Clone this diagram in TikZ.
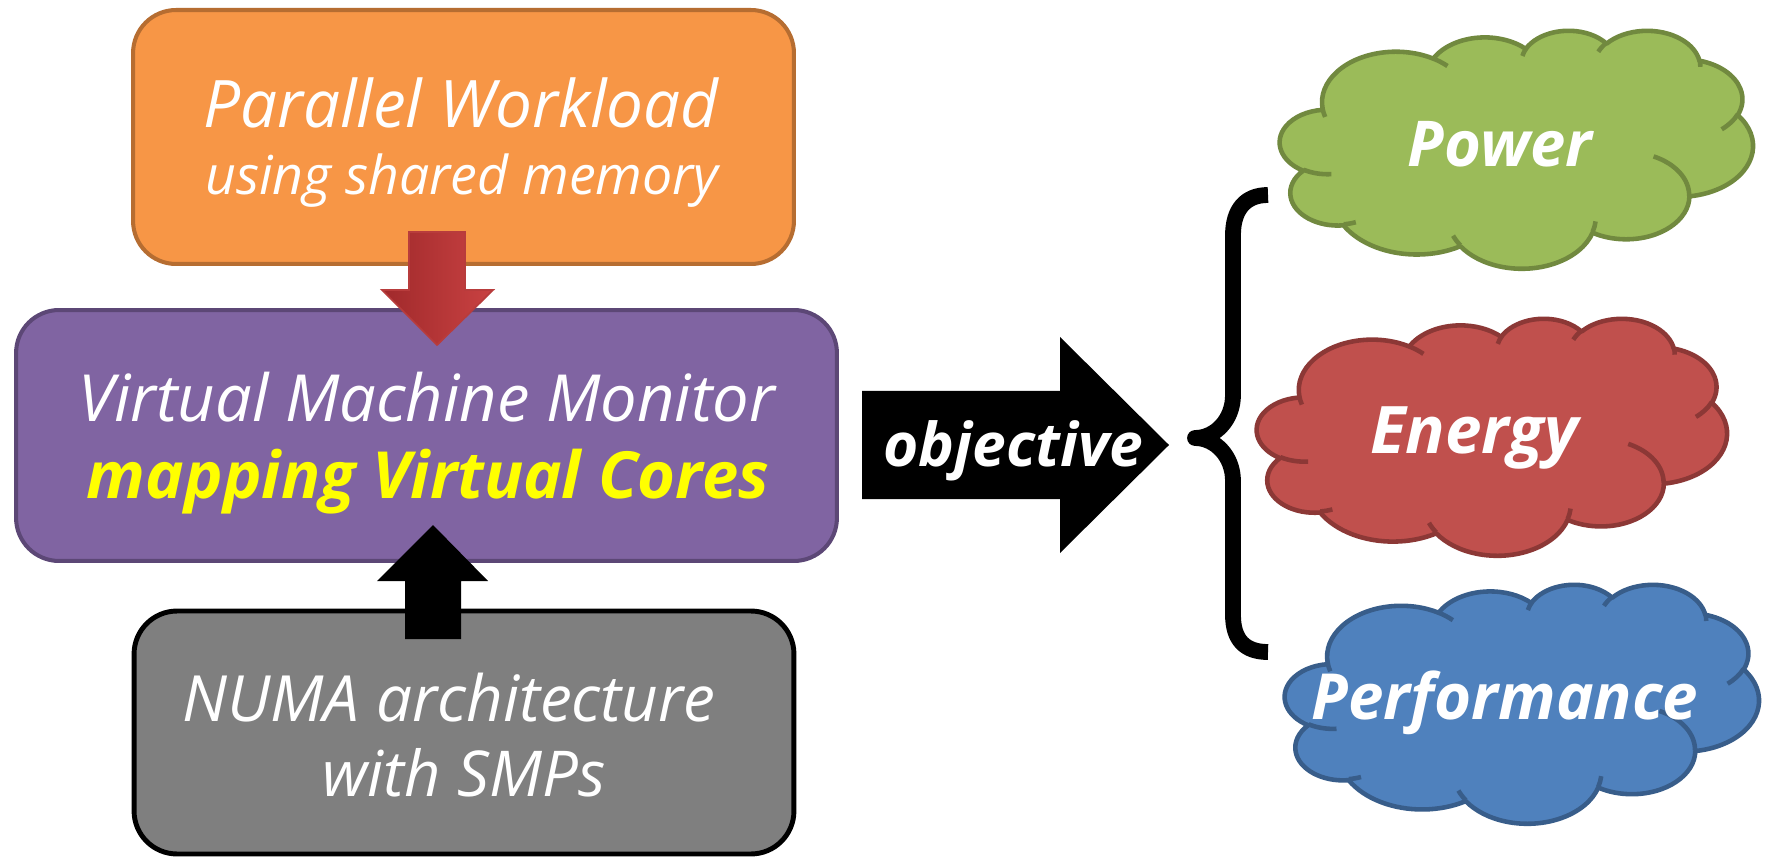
\documentclass[tikz,border=0pt]{standalone}
\usepackage{fontspec}
\setmainfont{Open Sans}
\definecolor{orangeFill}{HTML}{F79646}
\definecolor{orangeLine}{HTML}{B66D31}
\definecolor{purpleFill}{HTML}{8064A2}
\definecolor{purpleLine}{HTML}{5C4776}
\definecolor{grayFill}{HTML}{7F7F7F}
\definecolor{greenFill}{HTML}{9BBB59}
\definecolor{greenLine}{HTML}{71893F}
\definecolor{redFill}{HTML}{C0504D}
\definecolor{redLine}{HTML}{8C3836}
\definecolor{blueFill}{HTML}{4F81BD}
\definecolor{blueLine}{HTML}{385D8A}
\definecolor{arrowDark}{HTML}{A0292B}
\definecolor{arrowLight}{HTML}{C94242}
\definecolor{arrowEdge}{HTML}{B83C3C}
\definecolor{textYellow}{HTML}{FFFF00}
% convert DrawingML visual angles into parametric angles
\newcommand\cconv[5]{%
  \pgfmathsetmacro\tmpA{atan2((#2)*sin(#4),(#3)*cos(#4))}%
  \pgfmathsetmacro\tmpB{atan2((#2)*sin((#4)+(#5)),(#3)*cos((#4)+(#5)))}%
  \pgfmathsetmacro\tmpD{\tmpB-\tmpA}%
  \pgfmathsetmacro\tmpD{ifthenelse((#5)>0,ifthenelse(\tmpD<0,\tmpD+360,\tmpD),ifthenelse(\tmpD>0,\tmpD-360,\tmpD))}%
  \expandafter\xdef\csname #1s\endcsname{\tmpA}%
  \expandafter\xdef\csname #1d\endcsname{\tmpD}%
}
\tikzset{
  boxshape/.style={rounded corners=0.86cm, inner sep=0pt, line width=2.3pt},
  txt/.style={text=white, inner sep=0pt, anchor=base},
  cloudline/.style={line width=2.6pt, line join=round},
}
\newcommand\cloudshape[6]{%
\begin{scope}[shift={(#1,#2)},x=#3cm,y=-#4cm]
\filldraw[fill=#5, draw=#6, cloudline]
  (39.00,143.70)
  arc[start angle=\cAs,delta angle=\cAd,x radius=67.53,y radius=91.90]
  arc[start angle=\cBs,delta angle=\cBd,x radius=53.33,y radius=72.67]
  arc[start angle=\cCs,delta angle=\cCd,x radius=43.65,y radius=59.45]
  arc[start angle=\cDs,delta angle=\cDd,x radius=48.57,y radius=65.95]
  arc[start angle=\cEs,delta angle=\cEd,x radius=53.33,y radius=72.73]
  arc[start angle=\cFs,delta angle=\cFd,x radius=67.75,y radius=92.20]
  arc[start angle=\cGs,delta angle=\cGd,x radius=57.85,y radius=78.67]
  arc[start angle=\cHs,delta angle=\cHd,x radius=67.52,y radius=92.15]
  arc[start angle=\cIs,delta angle=\cId,x radius=77.20,y radius=105.43]
  arc[start angle=\cJs,delta angle=\cJd,x radius=43.60,y radius=59.18]
  arc[start angle=\cKs,delta angle=\cKd,x radius=43.45,y radius=59.45]
  -- cycle;
\draw[draw=#6, cloudline]
  (46.93,261.77) arc[start angle=\iAs,delta angle=\iAd,x radius=43.45,y radius=59.45]
  (69.28,348.99) arc[start angle=\iBs,delta angle=\iBd,x radius=43.60,y radius=59.18]
  (164.78,390.90) arc[start angle=\iCs,delta angle=\iCd,x radius=67.52,y radius=92.15]
  (288.27,347.51) arc[start angle=\iDs,delta angle=\iDd,x radius=67.52,y radius=92.15]
  (341.29,229.54) arc[start angle=\iEs,delta angle=\iEd,x radius=57.85,y radius=78.67]
  (417.98,153.54) arc[start angle=\iFs,delta angle=\iFd,x radius=53.33,y radius=72.73]
  (383.24,54.26) arc[start angle=\iGs,delta angle=\iGd,x radius=48.57,y radius=65.95]
  (290.78,39.52) arc[start angle=\iHs,delta angle=\iHd,x radius=48.57,y radius=65.95]
  (221.41,47.20) arc[start angle=\iIs,delta angle=\iId,x radius=43.65,y radius=59.45]
  (140.00,51.92) arc[start angle=\iJs,delta angle=\iJd,x radius=67.53,y radius=91.90]
  (41.27,157.89) arc[start angle=\iKs,delta angle=\iKd,x radius=67.53,y radius=91.90];
\end{scope}}
\begin{document}
\begin{tikzpicture}[x=0.02cm,y=-0.02cm]
\cconv{cA}{67.53}{91.90}{-190.48748}{123.78053}
\cconv{cB}{53.33}{72.67}{-144.10238}{89.94523}
\cconv{cC}{43.65}{59.45}{-145.80792}{99.72302}
\cconv{cD}{48.57}{65.95}{-130.98607}{117.24173}
\cconv{cE}{53.33}{72.73}{-78.70888}{109.02692}
\cconv{cF}{67.75}{92.20}{-46.26725}{130.269}
\cconv{cG}{57.85}{78.67}{0.62502}{114.03333}
\cconv{cH}{67.52}{92.15}{22.4516}{115.17255}
\cconv{cI}{77.20}{105.43}{66.24263}{75.71102}
\cconv{cJ}{43.60}{59.18}{-274.94208}{146.73557}
\cconv{cK}{43.45}{59.45}{-246.8285}{152.51885}
\cconv{iA}{43.45}{59.45}{86.742}{26.4295}
\cconv{iB}{43.60}{59.18}{73.61047}{11.44747}
\cconv{iC}{67.52}{92.15}{137.62415}{14.0811}
\cconv{iD}{67.52}{92.15}{6.45327}{15.99835}
\cconv{iE}{57.85}{78.67}{-70.29235}{70.91737}
\cconv{iF}{53.33}{72.73}{30.31803}{27.7515}
\cconv{iG}{48.57}{65.95}{-13.74433}{14.8589}
\cconv{iH}{48.57}{65.95}{-149.18145}{18.19537}
\cconv{iI}{43.65}{59.45}{-163.49427}{17.68635}
\cconv{iJ}{67.53}{91.90}{-66.70695}{12.31935}
\cconv{iK}{67.53}{91.90}{157.65435}{11.85817}
\useasboundingbox[fill=white] (0,0) rectangle (1768,861);
% boxes
\node[boxshape, draw=orangeLine, fill=orangeFill, minimum width=13.22cm, minimum height=5.08cm] (orange) at (463.5,137) {};
\node[boxshape, draw=purpleLine, fill=purpleFill, minimum width=16.42cm, minimum height=5.02cm] (purple) at (426.5,435.5) {};
\node[boxshape, draw=black, fill=grayFill, line width=2.8pt, minimum width=13.2cm, minimum height=4.86cm] (gray) at (464,732.5) {};
% block arrows
\draw[arrowEdge, line width=1pt, left color=arrowDark, right color=arrowLight]
  (409,232) -- (465,232) -- (465,290) -- (493,290) -- (437,345) -- (382,290) -- (409,290) -- cycle;
\fill[black] (405,639) -- (461,639) -- (461,581) -- (488,581) -- (433,525) -- (377,581) -- (405,581) -- cycle;
\fill[black] (862,391) -- (1060,391) -- (1060,337) -- (1169,445) -- (1060,553) -- (1060,499) -- (862,499) -- cycle;
% texts
\node[txt, font=\fontsize{37.3}{40}\selectfont\itshape] (t1) at (461,128) {Parallel Workload};
\node[txt, font=\fontsize{30.5}{34}\selectfont\itshape] (t2) at (462,195) {using shared memory};
\node[txt, font=\fontsize{37}{40}\selectfont\itshape] (t3) at (427,421) {Virtual Machine Monitor};
\node[txt, text=textYellow, font=\fontsize{37}{40}\selectfont\bfseries\itshape] (t4) at (428,498) {mapping Virtual Cores};
\node[txt, font=\fontsize{36.3}{40}\selectfont\itshape] (t5) at (449,721) {NUMA architecture};
\node[txt, font=\fontsize{36}{40}\selectfont\itshape] (t6) at (464,796) {with SMPs};
\node[txt, font=\fontsize{34.4}{37}\selectfont\bfseries\itshape] (obj) at (1013,466) {objective};
% brace
\draw[black, line width=9pt, line cap=butt, line join=round]
  (1268,195) .. controls (1245,195) and (1233,210) .. (1233,235)
  -- (1233,395) .. controls (1233,420) and (1215,438) .. (1195,438)
  .. controls (1215,438) and (1233,456) .. (1233,481)
  -- (1233,615) .. controls (1233,640) and (1245,652) .. (1268,652);
% clouds
\cloudshape{1280}{30}{0.021898}{0.0110185}{greenFill}{greenLine}
\cloudshape{1257}{318}{0.021759}{0.010972}{redFill}{redLine}
\cloudshape{1285}{584}{0.021944}{0.011065}{blueFill}{blueLine}
\node[txt, font=\fontsize{36}{39}\selectfont\bfseries\itshape] (power) at (1500,167) {Power};
\node[txt, font=\fontsize{37.3}{40}\selectfont\bfseries\itshape] (energy) at (1474,454) {Energy};
\node[txt, font=\fontsize{36.2}{39}\selectfont\bfseries\itshape] (perf) at (1505,719) {Performance};
\end{tikzpicture}
\end{document}
